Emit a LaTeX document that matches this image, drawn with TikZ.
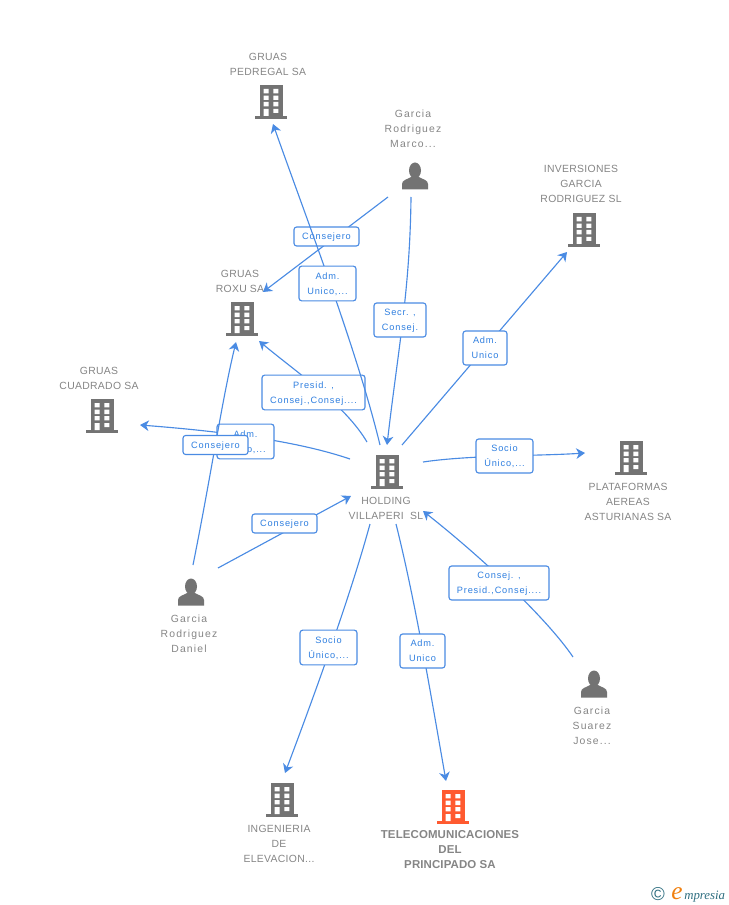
\documentclass[tikz,border=0pt]{standalone}
\usepackage{fontspec}
\setmainfont{Liberation Sans}
\newfontfamily\entfont[LetterSpace=3]{Liberation Sans}
\newfontfamily\perfont[LetterSpace=11]{Liberation Sans}
\newfontfamily\entbold[LetterSpace=1]{Liberation Sans Bold}
\newfontfamily\lblfont[LetterSpace=9]{Liberation Sans}
\newfontfamily\logofont{Liberation Serif Italic}
\usetikzlibrary{arrows.meta}
\definecolor{edgeblue}{HTML}{4A8BE3}
\definecolor{lbltext}{HTML}{2F7FE0}
\definecolor{iconfill}{HTML}{737373}
\definecolor{hilite}{HTML}{FF5A30}
\definecolor{nametext}{HTML}{858585}
\definecolor{logoteal}{HTML}{2E6E80}
\definecolor{logoorange}{HTML}{F08010}
\tikzset{
  x=0.75pt,y=-0.75pt,
  conn/.style={draw=edgeblue,line width=0.85pt,-{Stealth[length=6.6pt,width=8pt,inset=2pt]}},
  relbox/.style={draw=edgeblue,line width=0.85pt,rounded corners=2pt,fill=white,inner sep=0pt,text depth=0pt,
    font=\lblfont\fontsize{6.9}{11.25}\selectfont,text=lbltext,align=center},
  entname/.style={inner sep=0pt,align=center,text=nametext,font=\entfont\fontsize{7.8}{11.25}\selectfont},
  pername/.style={inner sep=0pt,align=center,text=nametext,font=\perfont\fontsize{7.8}{11.25}\selectfont},
  entnameb/.style={inner sep=0pt,align=center,text=nametext,font=\entbold\fontsize{8.6}{11.25}\selectfont},
  pics/tower/.style={code={
    \fill[#1] (-11,-17) rectangle (11.5,14);
    \fill[#1] (-16,14) rectangle (16,17);
    \fill[white] (-7.3,-13) rectangle (-2.5,-8.7) (2.3,-13) rectangle (7.3,-8.7)
      (-7.3,-6.3) rectangle (-2.5,-2) (2.3,-6.3) rectangle (7.3,-2)
      (-7.3,0) rectangle (-2.5,4.3) (2.3,0) rectangle (7.3,4.3)
      (-7.3,7) rectangle (-2.5,14) (2.3,7) rectangle (7.3,11);
  }},
  pics/person/.style={code={
    \fill[iconfill] (0,-6.5) ellipse [x radius=6,y radius=8];
    \fill[iconfill] (-13,12.5) -- (-13,7) .. controls (-13,3) and (-8,2.5) .. (-4,0)
      -- (4,0) .. controls (8,2.5) and (13,3) .. (13,7) -- (13,12.5) -- cycle;
  }},
}
\begin{document}
\begin{tikzpicture}
\useasboundingbox (0,0) rectangle (728,905);
% icons
\pic at (271,102) {tower=iconfill};
\pic at (242,319) {tower=iconfill};
\pic at (102,416) {tower=iconfill};
\pic at (584,230) {tower=iconfill};
\pic at (631,458) {tower=iconfill};
\pic at (387,472) {tower=iconfill};
\pic at (282,800) {tower=iconfill};
\pic at (453,807) {tower=hilite};
\pic at (415,177) {person};
\pic at (191,593) {person};
\pic at (594,685) {person};
% names
\node[entname] (pedregal) at (268,64) {GRUAS\\PEDREGAL SA};
\node[pername] (marco) at (413,129) {Garcia\\Rodriguez\\Marco...};
\node[entname] (inversiones) at (581,184) {INVERSIONES\\GARCIA\\RODRIGUEZ SL};
\node[entname] (roxu) at (240,281) {GRUAS\\ROXU SA};
\node[entname] (cuadrado) at (99,378) {GRUAS\\CUADRADO SA};
\node[entname] (plataformas) at (628,502) {PLATAFORMAS\\AEREAS\\ASTURIANAS SA};
\node[entname] (holding) at (386,508.5) {HOLDING\\VILLAPERI\ \ SL};
\node[pername] (daniel) at (189,634) {Garcia\\Rodriguez\\Daniel};
\node[pername] (jose) at (592,726) {Garcia\\Suarez\\Jose...};
\node[entname] (ingenieria) at (279,844) {INGENIERIA\\DE\\ELEVACION...};
\node[entnameb] (telecom) at (450,850) {TELECOMUNICACIONES\\DEL\\PRINCIPADO SA};
% connector ends
\coordinate (hPed) at (380,445);  \coordinate (ePed) at (273,124);
\coordinate (mHol) at (411,197);  \coordinate (eHolM) at (387,445);
\coordinate (mRox) at (388,197);  \coordinate (eRoxM) at (263,292);
\coordinate (hInv) at (402,445);  \coordinate (eInv) at (567,252);
\coordinate (hPla) at (423,462);  \coordinate (ePla) at (585,453);
\coordinate (hRox) at (367,442);  \coordinate (eRoxH) at (259,341);
\coordinate (hCua) at (350,459);  \coordinate (eCua) at (140,425);
\coordinate (dRox) at (193,565);  \coordinate (eRoxD) at (236,342);
\coordinate (dHol) at (218,568);  \coordinate (eHolD) at (351,496);
\coordinate (jHol) at (573,657);  \coordinate (eHolJ) at (423,511);
\coordinate (hIng) at (370,524);  \coordinate (eIng) at (285,773);
\coordinate (hTel) at (396,524);  \coordinate (eTel) at (446,781);
% connectors and labels, in painting order
\draw[conn] (mRox) -- (eRoxM);
\node[relbox,minimum width=48.75pt,minimum height=14.25pt] (lMRo) at (326.5,236.5) {Consejero};
\draw[conn] (hRox) .. controls (345,405) and (300,375) .. (eRoxH);
\node[relbox,minimum width=77.25pt,minimum height=26pt] (lRox) at (313.5,392.5) {Presid. ,\\Consej.,Consej....};
\draw[conn] (hPed) .. controls (357,350) and (307,220) .. (ePed);
\node[relbox,minimum width=42.75pt,minimum height=26pt] (lPed) at (327.5,283.5) {Adm.\\Unico,...};
\draw[conn] (mHol) .. controls (410,290) and (398,350) .. (eHolM);
\node[relbox,minimum width=39pt,minimum height=25.5pt] (lMar) at (400,320) {Secr. ,\\Consej.};
\draw[conn] (hInv) -- (eInv);
\node[relbox,minimum width=33pt,minimum height=25.5pt] (lInv) at (485,348) {Adm.\\Unico};
\draw[conn] (hPla) .. controls (470,455) and (540,456) .. (ePla);
\node[relbox,minimum width=42.75pt,minimum height=25.5pt] (lPla) at (504.5,456) {Socio\\Único,...};
\draw[conn] (hCua) .. controls (300,442) and (230,432) .. (eCua);
\node[relbox,minimum width=42.75pt,minimum height=26pt] (lCua) at (245.5,441.5) {Adm.\\Único,...};
\draw[conn] (dRox) .. controls (212,470) and (222,400) .. (eRoxD);
\node[relbox,minimum width=48.75pt,minimum height=14.25pt] (lDRo) at (215.5,445) {Consejero};
\draw[conn] (dHol) -- (eHolD);
\node[relbox,minimum width=48.75pt,minimum height=14.25pt] (lDHo) at (284.5,523.5) {Consejero};
\draw[conn] (jHol) .. controls (548,620) and (485,560) .. (eHolJ);
\node[relbox,minimum width=75pt,minimum height=25.5pt] (lJos) at (499,583) {Consej. ,\\Presid.,Consej....};
\draw[conn] (hIng) .. controls (352,590) and (320,680) .. (eIng);
\node[relbox,minimum width=42.75pt,minimum height=26pt] (lIng) at (328.5,647.5) {Socio\\Único,...};
\draw[conn] (hTel) .. controls (415,600) and (430,690) .. (eTel);
\node[relbox,minimum width=33.75pt,minimum height=25.5pt] (lTel) at (422.5,651) {Adm.\\Unico};
% logo
\node[inner sep=0pt,text=logoteal,font=\fontsize{14}{14}\selectfont] (copyr) at (658,894) {©};
\node[inner sep=0pt,anchor=base west,font=\logofont\fontsize{19}{19}\selectfont,text=logoorange] (logoe) at (671,899) {e};
\node[inner sep=0pt,anchor=base west,font=\logofont\fontsize{9.6}{9}\selectfont,text=logoteal] (logot) at (684,899) {mpresia};
\end{tikzpicture}
\end{document}
